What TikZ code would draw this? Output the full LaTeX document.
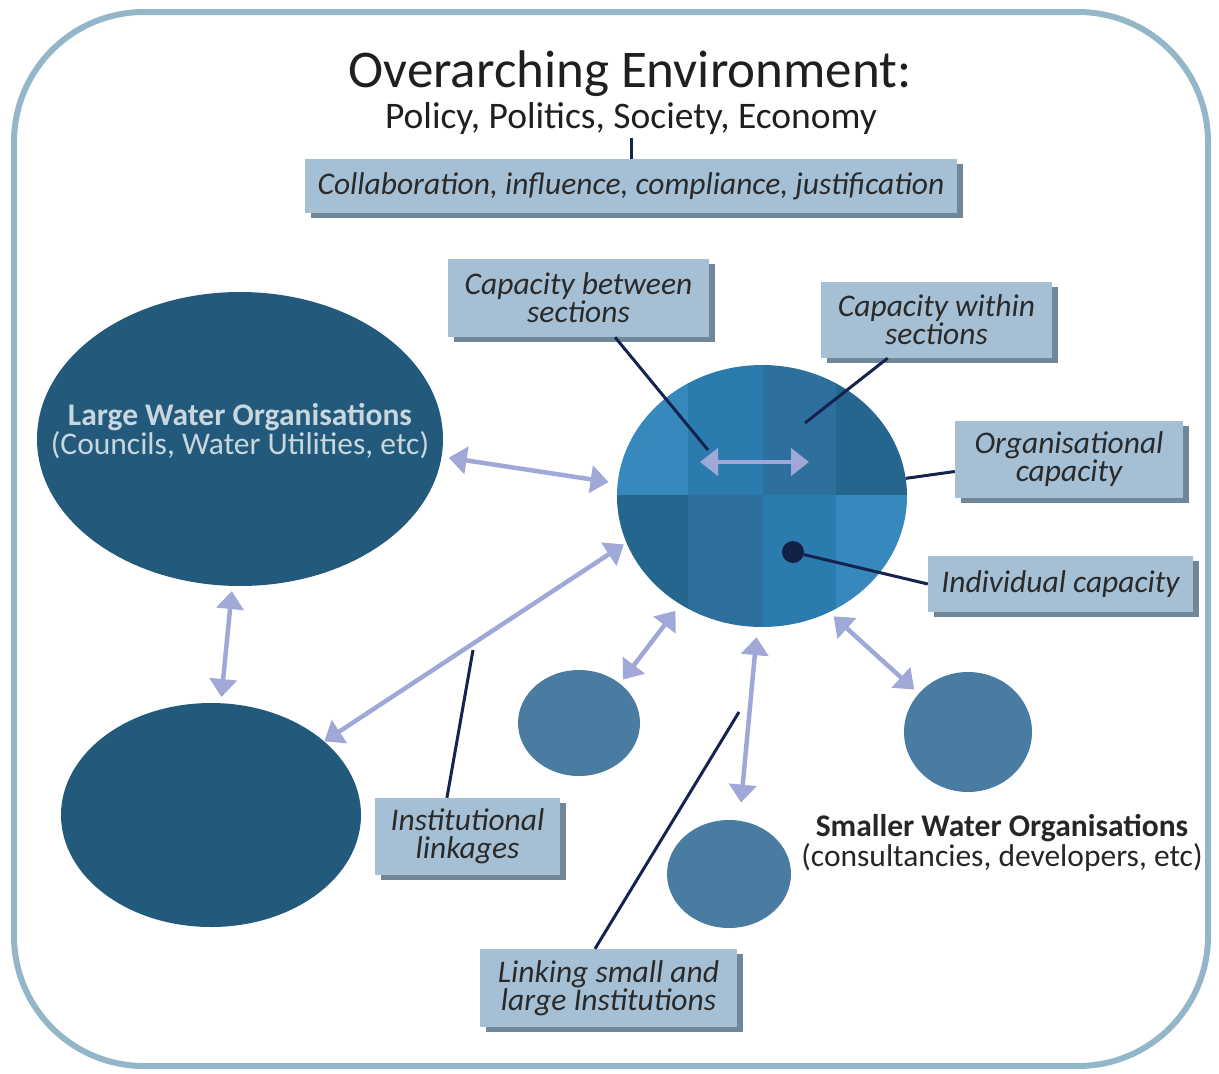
\documentclass[tikz,border=0pt]{standalone}
\usepackage{fontspec}
\setmainfont{Carlito}
\usetikzlibrary{shapes.geometric,arrows.meta,shadows}

\definecolor{framecol}{HTML}{93B7C8}
\definecolor{boxcol}{HTML}{A5C0D4}
\definecolor{boxshade}{HTML}{6F8799}
\definecolor{boxtext}{HTML}{2A2A2A}
\definecolor{bigcol}{HTML}{235A7C}
\definecolor{smallcol}{HTML}{4A7BA0}
\definecolor{arrowcol}{HTML}{A0A8D8}
\definecolor{leadcol}{HTML}{15244F}
\definecolor{segA}{HTML}{3788BD}
\definecolor{segB}{HTML}{2C7BAE}
\definecolor{segC}{HTML}{2D6F9D}
\definecolor{segD}{HTML}{25668F}
\definecolor{segE}{HTML}{2A7CAF}

\begin{document}
\begin{tikzpicture}[x=1pt,y=-1pt,
bigorg/.style={ellipse,fill=bigcol,inner sep=0pt},
smallorg/.style={ellipse,fill=smallcol,inner sep=0pt},
capbox/.style={fill=boxcol,text=boxtext,align=center,inner sep=0pt,
  font=\itshape\fontsize{31.5}{28}\selectfont,
  drop shadow={shadow xshift=6pt,shadow yshift=-5pt,fill=boxshade,opacity=1}},
leader/.style={draw=leadcol,line width=3pt},
linkarrow/.style={draw=arrowcol,line width=4.5pt,
  {Triangle[length=18pt,width=27pt]}-{Triangle[length=18pt,width=27pt]}},
]

\useasboundingbox (0,0) rectangle (1219,1074);

%Frame
\draw[framecol,line width=6pt,rounded corners=130pt] (14,12) rectangle (1208,1066);


%Title
\node[anchor=base,text=black!88,font=\fontsize{53}{60}\selectfont,
] (title) at (630,87){Overarching Environment:};

%Subtitle
\node[anchor=base,text=black!88,font=\fontsize{37.5}{44}\selectfont,
] (subtitle) at (631,128){Policy, Politics, Society, Economy};


%%%%%%%%%%%%%%%%%Organisations%%%%%%%%%%%%%%

%Large
\node[bigorg,minimum width=406pt,minimum height=294pt,
] (large) at (240,439){};

%Large (lower)
\node[bigorg,minimum width=300pt,minimum height=224pt,
] (lowbig) at (211,815){};

%Small Left
\node[smallorg,minimum width=122pt,minimum height=106pt,
] (smallA) at (579,723){};

%Small Bottom
\node[smallorg,minimum width=124pt,minimum height=108pt,
] (smallB) at (729,874){};

%Small Right
\node[smallorg,minimum width=128pt,minimum height=120pt,
] (smallC) at (968,732){};

%Centre
\node[ellipse,inner sep=0pt,minimum width=290pt,minimum height=262pt,
] (centre) at (762,496){};

\begin{scope}
\clip (762,496) ellipse [x radius=145, y radius=131];
\fill[segA] (600,350) rectangle (688,495);
\fill[segB] (688,350) rectangle (763,495);
\fill[segC] (763,350) rectangle (836,495);
\fill[segD] (836,350) rectangle (920,495);
\fill[segD] (600,495) rectangle (688,640);
\fill[segC] (688,495) rectangle (763,640);
\fill[segE] (763,495) rectangle (836,640);
\fill[segA] (836,495) rectangle (920,640);
\end{scope}

%Individual
\node[circle,fill=leadcol!90!black,inner sep=0pt,minimum size=22pt,
] (dot) at (793,552){};


%Labels
\node[text=bigcol!25!white,align=center,font=\fontsize{31.5}{27}\selectfont,
] (largelbl) at (240,431){\textbf{Large Water Organisations}\\(Councils, Water Utilities, etc)};

\node[text=black!85,align=center,font=\fontsize{31.5}{28}\selectfont,
] (smalllbl) at (1002,843){\textbf{Smaller Water Organisations}\\(consultancies, developers, etc)};


%%%%%%%%%%%%%%%%%Boxes%%%%%%%%%%%%%%

\node[capbox,minimum width=652pt,minimum height=54pt,
] (collab) at (631,186){Collaboration, influence, compliance, justification};

\node[capbox,minimum width=261pt,minimum height=78pt,
] (between) at (578.5,298){Capacity between\\sections};

\node[capbox,minimum width=231pt,minimum height=76pt,
] (within) at (936.5,320){Capacity within\\sections};

\node[capbox,minimum width=228pt,minimum height=77pt,
] (orgcap) at (1069,459.5){Organisational\\capacity};

\node[capbox,minimum width=265pt,minimum height=56pt,
] (indiv) at (1060.5,584){Individual capacity};

\node[capbox,minimum width=185pt,minimum height=77pt,
] (instit) at (467.5,836.5){Institutional\\linkages};

\node[capbox,minimum width=257pt,minimum height=78pt,
] (linking) at (608.5,988){Linking small and\\large Institutions};


%%%%%%%%%%%%%%%%%Arrows%%%%%%%%%%%%%%

\coordinate (secL) at (700,462);
\coordinate (secR) at (809,462);

\draw[linkarrow] (secL) -- (secR);
\draw[linkarrow,shorten <=7pt,shorten >=9pt] (large.-5) -- (centre.175);
\draw[linkarrow,shorten <=5pt,shorten >=6pt] (large.-93) -- (lowbig.85);
\draw[linkarrow,shorten <=3pt] (centre.-161) -- (lowbig.33);
\draw[linkarrow,shorten <=8pt,shorten >=5pt] (centre.-127) -- (smallA.44);
\draw[linkarrow,shorten <=10pt,shorten >=18pt] (centre.-92) -- (smallB.79);
\draw[linkarrow,shorten <=6pt,shorten >=6pt] (centre.-60) -- (smallC.142);


%%%%%%%%%%%%%%%%%Leaders%%%%%%%%%%%%%%

\coordinate (envlink) at (631,138);
\coordinate (betweenEnd) at (708,450);
\coordinate (withinEnd) at (805,423);
\coordinate (institEnd) at (473,650);
\coordinate (linkingEnd) at (739,712);

\draw[leader] (envlink) -- (collab.north);
\draw[leader] (between.-47) -- (betweenEnd);
\draw[leader] (within.-142) -- (withinEnd);
\draw[leader] (centre.7) -- (orgcap.186);
\draw[leader] (dot) -- (indiv.west);
\draw[leader] (instit.118) -- (institEnd);
\draw[leader] (linking.109) -- (linkingEnd);

\end{tikzpicture}
\end{document}
